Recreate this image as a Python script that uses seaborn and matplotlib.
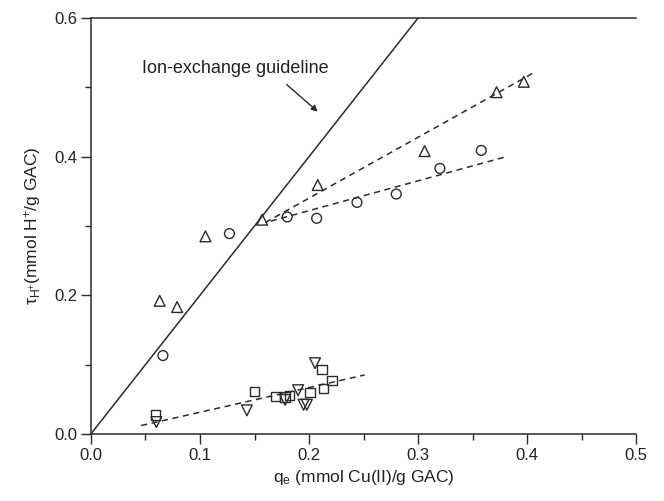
import numpy as np
import pandas as pd
import matplotlib
matplotlib.use("Agg")
import matplotlib.pyplot as plt
import seaborn as sns
from matplotlib.ticker import MultipleLocator

# data
circle_q = [0.066, 0.127, 0.180, 0.207, 0.244, 0.280, 0.320, 0.358]
circle_tau = [0.113, 0.289, 0.313, 0.311, 0.334, 0.346, 0.383, 0.409]

tri_up_q = [0.063, 0.079, 0.105, 0.157, 0.208, 0.306, 0.372, 0.397]
tri_up_tau = [0.192, 0.183, 0.285, 0.309, 0.359, 0.408, 0.493, 0.508]

square_q = [0.059, 0.150, 0.169, 0.178, 0.182, 0.201, 0.212, 0.213, 0.221]
square_tau = [0.027, 0.061, 0.054, 0.053, 0.055, 0.060, 0.093, 0.065, 0.077]

tri_down_q = [0.060, 0.143, 0.178, 0.190, 0.195, 0.198, 0.2055]
tri_down_tau = [0.017, 0.034, 0.049, 0.063, 0.042, 0.042, 0.102]

# fitted / guide lines (end points)
guide_q = [0.0, 0.30]
guide_tau = [0.0, 0.60]
fit_tri_q = [0.160, 0.406]
fit_tri_tau = [0.305, 0.521]
fit_circ_q = [0.165, 0.381]
fit_circ_tau = [0.307, 0.400]
fit_low_q = [0.046, 0.251]
fit_low_tau = [0.012, 0.085]

sns.set_style("ticks")
plt.rcParams['font.family'] = ['Liberation Sans', 'DejaVu Sans']
plt.rcParams['mathtext.default'] = 'regular'

ink = '#2b2b2b'

fig = plt.figure(figsize=(6.64, 5.01), dpi=100)
ax = fig.add_axes([0.137, 0.134, 0.821, 0.830])

# guideline and dashed fits
sns.lineplot(x=guide_q, y=guide_tau, ax=ax, color=ink, lw=1.1)
for fq, ft in [(fit_tri_q, fit_tri_tau), (fit_circ_q, fit_circ_tau), (fit_low_q, fit_low_tau)]:
    sns.lineplot(x=fq, y=ft, ax=ax, color=ink, lw=1.1, linestyle=(0, (4, 3)))

series = [
    (circle_q, circle_tau, 'o', 50),
    (tri_up_q, tri_up_tau, '^', 60),
    (square_q, square_tau, 's', 45),
    (tri_down_q, tri_down_tau, 'v', 60),
]
for q, tau, mk, sz in series:
    df = pd.DataFrame({'q': q, 'tau': tau})
    sns.scatterplot(data=df, x='q', y='tau', ax=ax, marker=mk, s=sz,
                    facecolor='none', edgecolor=ink, linewidth=1.0, zorder=3)

ax.text(0.132, 0.527, 'Ion-exchange guideline', fontsize=13, color='#222222',
        ha='center', va='center')
ax.annotate('', xy=(0.208, 0.465), xytext=(0.1795, 0.504),
            arrowprops=dict(arrowstyle='-|>', color=ink, lw=1.0,
                            mutation_scale=9, shrinkA=0, shrinkB=0))

ax.set_xlim(0, 0.5)
ax.set_ylim(0, 0.6)
ax.xaxis.set_minor_locator(MultipleLocator(0.05))
ax.yaxis.set_minor_locator(MultipleLocator(0.1))
ax.set_xticks(np.arange(0, 0.51, 0.1))
ax.set_xticklabels(['0.0', '0.1', '0.2', '0.3', '0.4', '0.5'])
ax.set_yticks(np.arange(0, 0.61, 0.2))
ax.set_yticklabels(['0.0', '0.2', '0.4', '0.6'])

ax.tick_params(which='major', direction='out', length=7, width=1.0,
               color=ink, labelsize=12, labelcolor='#222222', pad=3)
ax.tick_params(which='minor', direction='out', length=4, width=1.0, color=ink)
ax.tick_params(top=False, right=False)

for side in ['left', 'bottom', 'top']:
    ax.spines[side].set_color(ink)
    ax.spines[side].set_linewidth(1.1)
ax.spines['right'].set_visible(False)

ax.set_xlabel('q$_e$ (mmol Cu(II)/g GAC)', fontsize=12.5, color='#222222', labelpad=4)
ax.set_ylabel(r'$\tau_{H^{+}}$(mmol H$^{+}$/g GAC)', fontsize=12.5, color='#222222', labelpad=8)

fig.savefig('out.png', dpi=100)
